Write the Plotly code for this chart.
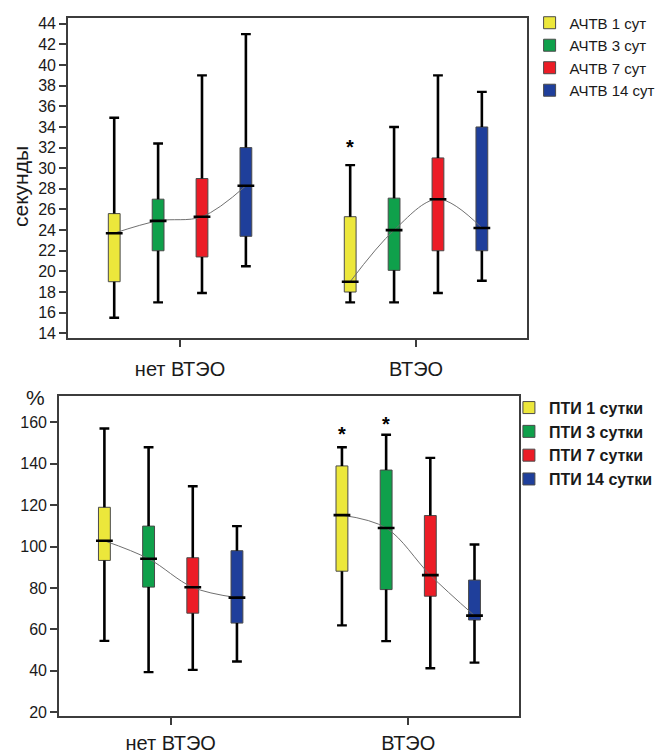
import plotly.graph_objects as go

# ---- data -------------------------------------------------------------
GROUPS = ["нет ВТЭО", "ВТЭО"]
COLORS = ["#ECE73B", "#0FA04B", "#EC1C26", "#1F3F9B"]

# APTT (seconds); rows = day 1, 3, 7, 14; columns = groups
APTT_NAMES = ["АЧТВ 1 сут", "АЧТВ 3 сут", "АЧТВ 7 сут", "АЧТВ 14 сут"]
APTT_LOW = [[15.5, 17.0], [17.0, 17.0], [17.9, 17.9], [20.5, 19.1]]
APTT_Q1 = [[19.0, 18.0], [22.0, 20.1], [21.4, 22.0], [23.4, 22.0]]
APTT_MED = [[23.7, 19.0], [24.9, 24.0], [25.3, 27.0], [28.3, 24.2]]
APTT_Q3 = [[25.6, 25.3], [27.0, 27.1], [29.0, 31.0], [32.0, 34.0]]
APTT_HIGH = [[34.9, 30.3], [32.4, 34.0], [39.0, 39.0], [43.0, 37.4]]
APTT_STAR_SERIES = [0]
APTT_STAR_GROUP = [1]
APTT_STAR_Y = [32.5]
APTT_TICKS = list(range(14, 45, 2))

# Prothrombin index (%); rows = day 1, 3, 7, 14; columns = groups
PTI_NAMES = ["ПТИ 1 сутки", "ПТИ 3 сутки", "ПТИ 7 сутки", "ПТИ 14 сутки"]
PTI_LOW = [[54.4, 61.9], [39.3, 54.3], [40.4, 41.2], [44.4, 43.9]]
PTI_Q1 = [[93.3, 88.1], [80.4, 79.2], [67.8, 76.0], [63.0, 64.5]]
PTI_MED = [[102.8, 115.2], [94.1, 109.0], [80.3, 86.2], [75.3, 66.6]]
PTI_Q3 = [[119.0, 139.0], [109.9, 137.0], [94.6, 115.0], [98.0, 83.8]]
PTI_HIGH = [[157.1, 148.0], [148.0, 154.1], [129.2, 142.9], [109.9, 101.0]]
PTI_STAR_SERIES = [0, 1]
PTI_STAR_GROUP = [1, 1]
PTI_STAR_Y = [156.8, 161.6]
PTI_TICKS = list(range(20, 161, 20))

# ---- styling ------------------------------------------------------------
FONT = "Liberation Sans, Arial, sans-serif"
INK = "#1a1a1a"
SLOT = 0.186      # distance between neighbouring boxes within a group
BOX_W = 0.05      # box width in x units

annotations = []


def pos(g, s):
    return g + (s - 1.5) * SLOT


def add_panel(fig, xa, ya, legend, names, low, q1, med, q3, high,
              star_s, star_g, star_y):
    n_groups = len(GROUPS)
    for s, name in enumerate(names):
        xs = [pos(g, s) for g in range(n_groups)]
        fig.add_trace(go.Box(
            x=xs, q1=q1[s], median=med[s], q3=q3[s],
            lowerfence=q1[s], upperfence=q3[s],
            width=BOX_W, whiskerwidth=0,
            fillcolor=COLORS[s], line=dict(color="#4a4a4a", width=1),
            name=name, legend=legend, xaxis=xa, yaxis=ya,
            hoverinfo="skip",
        ))
        # whiskers
        wx, wy = [], []
        for g in range(n_groups):
            wx += [xs[g], xs[g], None, xs[g], xs[g], None]
            wy += [q3[s][g], high[s][g], None, low[s][g], q1[s][g], None]
        fig.add_trace(go.Scatter(
            x=wx, y=wy, mode="lines", line=dict(color="black", width=2.6),
            showlegend=False, hoverinfo="skip", xaxis=xa, yaxis=ya,
        ))
        # whisker caps
        fig.add_trace(go.Scatter(
            x=xs + xs, y=low[s] + high[s], mode="markers",
            marker=dict(symbol="line-ew", size=7,
                        line=dict(color="black", width=2.4)),
            showlegend=False, hoverinfo="skip", xaxis=xa, yaxis=ya,
        ))
    # median trend curve through each group's boxes
    tx, ty = [], []
    for g in range(n_groups):
        tx += [pos(g, s) for s in range(len(names))] + [None]
        ty += [med[s][g] for s in range(len(names))] + [None]
    fig.add_trace(go.Scatter(
        x=tx, y=ty, mode="lines", line=dict(color="#707070", width=1,
                                            shape="spline", smoothing=1.0),
        connectgaps=False, showlegend=False, hoverinfo="skip",
        xaxis=xa, yaxis=ya,
    ))
    # medians
    mx = [pos(g, s) for s in range(len(names)) for g in range(n_groups)]
    my = [med[s][g] for s in range(len(names)) for g in range(n_groups)]
    fig.add_trace(go.Scatter(
        x=mx, y=my, mode="markers",
        marker=dict(symbol="line-ew", size=12,
                    line=dict(color="black", width=2.6)),
        showlegend=False, hoverinfo="skip", xaxis=xa, yaxis=ya,
    ))
    # significance marks
    for s, g, y in zip(star_s, star_g, star_y):
        annotations.append(dict(
            text="*", x=pos(g, s), y=y, xref=xa, yref=ya, showarrow=False,
            xanchor="center", yanchor="middle", yshift=-5,
            font=dict(family=FONT, size=20, color="black", weight="bold"),
        ))


fig = go.Figure()
add_panel(fig, "x", "y", "legend", APTT_NAMES, APTT_LOW, APTT_Q1, APTT_MED,
          APTT_Q3, APTT_HIGH, APTT_STAR_SERIES, APTT_STAR_GROUP, APTT_STAR_Y)
add_panel(fig, "x2", "y2", "legend2", PTI_NAMES, PTI_LOW, PTI_Q1, PTI_MED,
          PTI_Q3, PTI_HIGH, PTI_STAR_SERIES, PTI_STAR_GROUP, PTI_STAR_Y)

annotations += [
    dict(text="секунды", x=0.030, y=0.752, xref="paper", yref="paper",
         xanchor="center", yanchor="middle", textangle=-90, showarrow=False,
         font=dict(size=21, color=INK)),
    dict(text="%", x=0.0525, y=0.4695, xref="paper", yref="paper",
         xanchor="center", yanchor="middle", showarrow=False,
         font=dict(size=21, color=INK)),
]

frame = dict(showline=True, mirror=True, linecolor="#3c3c3c", linewidth=1.6,
             showgrid=False, zeroline=False, ticks="outside", tickwidth=1.6,
             tickcolor="#3c3c3c")

fig.update_layout(
    width=667, height=754,
    margin=dict(l=0, r=0, t=0, b=0),
    paper_bgcolor="white", plot_bgcolor="white",
    font=dict(family=FONT, color=INK),
    boxmode="overlay",
    xaxis=dict(frame, domain=[0.1019, 0.790], anchor="y",
               range=[-0.475, 1.47], tickvals=list(range(len(GROUPS))),
               ticktext=GROUPS, ticklen=7, ticklabelstandoff=5,
               tickfont=dict(size=20, color=INK)),
    yaxis=dict(frame, domain=[0.549, 0.9788], anchor="x",
               range=[13.5, 44.58], tickvals=APTT_TICKS, ticklen=7,
               tickfont=dict(size=16, color=INK)),
    xaxis2=dict(frame, domain=[0.0885, 0.778], anchor="y2",
                range=[-0.47, 1.466], tickvals=list(range(len(GROUPS))),
                ticktext=GROUPS, ticklen=7, ticklabelstandoff=1,
                tickfont=dict(size=20, color=INK)),
    yaxis2=dict(frame, domain=[0.0424, 0.4721], anchor="x2",
                range=[17.9, 172.9], tickvals=PTI_TICKS, ticklen=7,
                tickfont=dict(size=16, color=INK)),
    legend=dict(x=0.794, y=0.994, xanchor="left", yanchor="top",
                bgcolor="rgba(0,0,0,0)", font=dict(size=15, color=INK),
                tracegroupgap=0),
    legend2=dict(x=0.763, y=0.479, xanchor="left", yanchor="top",
                 bgcolor="rgba(0,0,0,0)",
                 font=dict(size=16, color=INK, weight="bold"),
                 tracegroupgap=0),
    annotations=annotations,
)

fig.write_html("out.html")
